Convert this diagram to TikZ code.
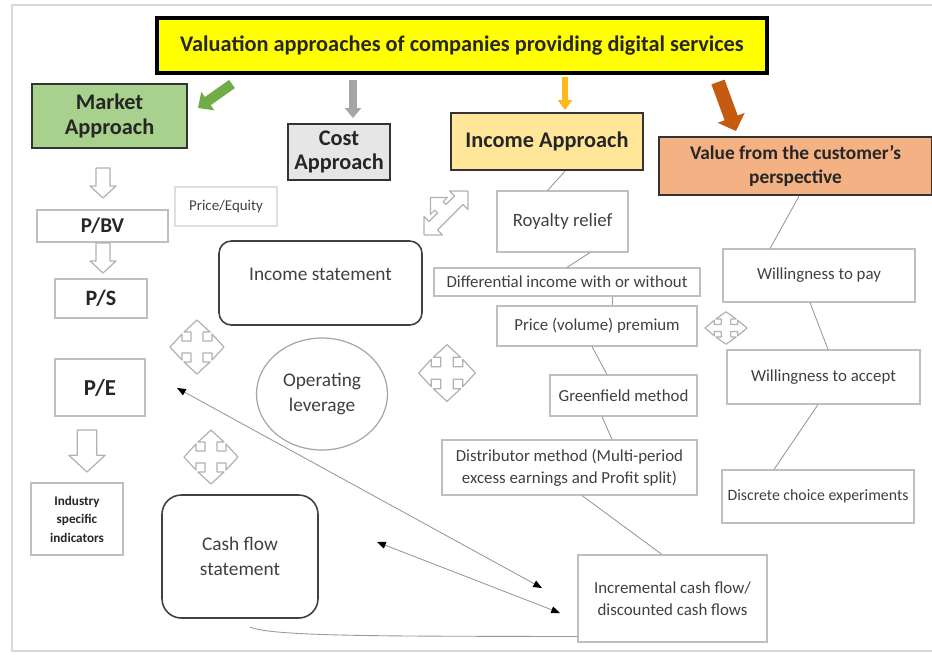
\documentclass[tikz,border=0pt]{standalone}
\usepackage{fontspec}
\setmainfont{Carlito}
\usepackage{tikz}
\usetikzlibrary{arrows.meta,shapes.geometric,calc}

\definecolor{titleyellow}{HTML}{FFFF00}
\definecolor{marketgreen}{HTML}{A9D18E}
\definecolor{costgray}{HTML}{E7E6E6}
\definecolor{incomeyellow}{HTML}{FFE699}
\definecolor{valueorange}{HTML}{F4B183}
\definecolor{arrgreen}{HTML}{70AD47}
\definecolor{arrgray}{HTML}{A5A5A5}
\definecolor{arrgold}{HTML}{FFB81C}
\definecolor{arrorange}{HTML}{C55A11}
\definecolor{edgegray}{HTML}{BFBFBF}
\definecolor{txtgray}{HTML}{404040}

\begin{document}
\begin{tikzpicture}[
  x=0.02cm, y=-0.02cm,
  sz/.style 2 args={minimum width=#1*0.02cm, minimum height=#2*0.02cm},
  headbox/.style={
    draw=black!80, line width=1.4pt, inner sep=1pt, align=center,
    font=\fontsize{12.7}{14}\selectfont\bfseries, text=black!85
  },
  thinbox/.style={
    draw=edgegray, line width=0.6pt, inner sep=1pt, align=center,
    font=\fontsize{9.6}{12.3}\selectfont, text=txtgray
  },
  ratiobox/.style={
    thinbox, font=\fontsize{12.5}{14}\selectfont\bfseries, text=black!85
  },
  roundbox/.style={
    draw=black!75, line width=0.9pt, rounded corners=7pt, align=center,
    font=\fontsize{11}{14}\selectfont, text=txtgray
  },
  link/.style={draw=gray!80, line width=0.5pt},
  dblarrow/.style={
    link,
    {Triangle[width=4pt,length=5pt,color=black]}-{Triangle[width=4pt,length=5pt,color=black]}
  },
  hollow/.style={draw=gray!60, fill=white, line width=0.7pt, line join=round},
  downarr/.pic={
    \draw[hollow] (-7,0) -- (7,0) -- (7,18) -- (13,18) -- (0,30)
      -- (-13,18) -- (-7,18) -- cycle;
  },
  quadarr/.pic={
    \draw[hollow] (6,-6) -- (15,-6) -- (15,-13) -- (27,0) -- (15,13) -- (15,6)
      -- (6,6) -- (6,15) -- (13,15) -- (0,27) -- (-13,15) -- (-6,15)
      -- (-6,6) -- (-15,6) -- (-15,13) -- (-27,0) -- (-15,-13) -- (-15,-6)
      -- (-6,-6) -- (-6,-15) -- (-13,-15) -- (0,-27) -- (13,-15) -- (6,-15)
      -- cycle;
  },
  triarr/.pic={
    \draw[hollow] (-18,6) -- (18,6) -- (18,13) -- (31,0) -- (18,-13) -- (18,-6)
      -- (6,-6) -- (6,-10) -- (12,-10) -- (0,-22) -- (-12,-10) -- (-6,-10)
      -- (-6,-6) -- (-18,-6) -- (-18,-13) -- (-31,0) -- (-18,13) -- cycle;
  }
]
  \useasboundingbox (0,0) rectangle (932,654);
  \draw[gray!30, line width=0.04cm] (945,5) -- (12,5) -- (12,651) -- (945,651);

  \node[headbox, fill=titleyellow, draw=black, line width=2pt, sz={610}{55}] (title) at (462,45.5)
    {Valuation approaches of companies providing digital services};
  \node[headbox, fill=marketgreen, sz={155}{64}] (market) at (109.5,116) {Market\\Approach};
  \node[headbox, fill=costgray, sz={102}{56}] (cost) at (339,152) {Cost\\Approach};
  \node[headbox, fill=incomeyellow, sz={192}{57}] (income) at (547,141.5) {Income Approach};
  \node[headbox, fill=valueorange, sz={273}{58},
    font=\fontsize{11}{13.5}\selectfont\bfseries] (value) at (795.5,166)
    {Value from the customer's\\perspective};

  \coordinate (ga) at (232,84);  \coordinate (gb) at (198,108);
  \coordinate (sa) at (353,80);  \coordinate (sb) at (353,118);
  \coordinate (ya) at (565,77);  \coordinate (yb) at (565,110);
  \coordinate (oa) at (718,82);  \coordinate (ob) at (736,131);
  \draw[arrgreen, line width=0.2cm, -{Triangle[width=0.44cm,length=0.24cm]}] (ga) -- (gb);
  \draw[arrgray, line width=0.16cm, -{Triangle[width=0.32cm,length=0.2cm]}] (sa) -- (sb);
  \draw[arrgold, line width=0.12cm, -{Triangle[width=0.28cm,length=0.2cm]}] (ya) -- (yb);
  \draw[arrorange, line width=0.28cm, -{Triangle[width=0.56cm,length=0.28cm]}] (oa) -- (ob);

  \node[thinbox, draw=gray!25, sz={102}{39}, font=\fontsize{8.5}{10}\selectfont] (pequity) at (226,206.5) {Price/Equity};
  \node[ratiobox, sz={131}{32}, font=\fontsize{12}{14}\selectfont\bfseries] (pbv) at (102.5,226) {P/BV};
  \node[ratiobox, sz={92}{39}] (ps) at (101,298.5) {P/S};
  \node[ratiobox, sz={90}{57}, font=\fontsize{13}{15}\selectfont\bfseries] (pe) at (100,387.5) {P/E};
  \node[thinbox, sz={92}{72}, font=\fontsize{7.5}{10.5}\selectfont\bfseries, text=black!85] (industry) at (77,519)
    {Industry\\specific\\indicators};
  \pic at (103,168) {downarr};
  \pic at (103,243) {downarr};
  \pic[scale=1.4] at (87,430) {downarr};

  \node[roundbox, sz={203}{84}, text depth=10pt] (incstmt) at (320.5,283) {Income statement};
  \node[draw=gray!70, line width=0.7pt, ellipse, sz={131}{112}, inner sep=0pt, align=center,
    font=\fontsize{11}{14}\selectfont, text=txtgray] (oplev) at (322,394) {Operating\\leverage};
  \node[roundbox, rounded corners=11pt, sz={156}{123}] (cfstmt) at (240,556.5) {Cash flow\\statement};
  \pic at (197,347) {quadarr};
  \pic at (211,457) {quadarr};
  \pic[scale=1.05] at (447,373) {quadarr};
  \pic[xscale=0.78, yscale=0.6] at (726,328) {quadarr};
  \pic[rotate=45] at (446,213) {triarr};

  \node[thinbox, sz={131}{61}, font=\fontsize{10.7}{13}\selectfont] (royalty) at (562.5,221.5) {Royalty relief};
  \node[thinbox, sz={266}{28}] (diffinc) at (567,282) {Differential income with or without};
  \node[thinbox, sz={200}{40}] (premium) at (597,326) {Price (volume) premium};
  \node[thinbox, sz={147}{41}] (greenfield) at (623.5,395.5) {Greenfield method};
  \node[thinbox, sz={255}{55}] (distrib) at (569.5,467.5)
    {Distributor method (Multi-period\\excess earnings and Profit split)};
  \node[thinbox, sz={189}{87}] (incr) at (672.5,598.5)
    {Incremental cash flow/\\discounted cash flows};
  \node[thinbox, sz={192}{53}] (wtp) at (819,275.5) {Willingness to pay};
  \node[thinbox, sz={193}{54}] (wta) at (823.5,377) {Willingness to accept};
  \node[thinbox, sz={192}{53}, font=\fontsize{9}{12}\selectfont] (dce) at (818,496.5) {Discrete choice experiments};

  \draw[link] ($(income.south)+(18,0)$) -- ($(royalty.north)+(-15,0)$);
  \draw[link] ($(royalty.south)+(27.5,0)$) -- (diffinc.north);
  \draw[link] ($(diffinc.south)+(45,0)$) -- ($(premium.north)+(15,0)$);
  \draw[link] ($(premium.south)+(-5,0)$) -- ($(greenfield.north)+(-16.5,0)$);
  \draw[link] ($(greenfield.south)+(-21.5,0)$) -- ($(distrib.north)+(42.5,0)$);
  \draw[link] ($(distrib.south)+(12.5,0)$) -- ($(incr.north)+(-10.5,0)$);
  \draw[link] ($(value.south)+(3.5,0)$) -- ($(wtp.north)+(-49,0)$);
  \draw[link] ($(wtp.south)+(-9,0)$) -- ($(wta.north)+(4.5,0)$);
  \draw[link] ($(wta.south)+(-5.5,0)$) -- ($(dce.north)+(-44,0)$);

  \coordinate (petip) at (177,388);
  \coordinate (incrtipa) at (542,588);
  \coordinate (cftip) at (377,542);
  \coordinate (incrtipb) at (560,613);
  \coordinate (cfbase) at (250,627);
  \draw[dblarrow] (petip) -- (incrtipa);
  \draw[dblarrow] (cftip) -- (incrtipb);
  \draw[link] (cfbase) .. controls (272,637) and (400,636) .. ($(incr.south west)+(0,-6)$);
\end{tikzpicture}
\end{document}
